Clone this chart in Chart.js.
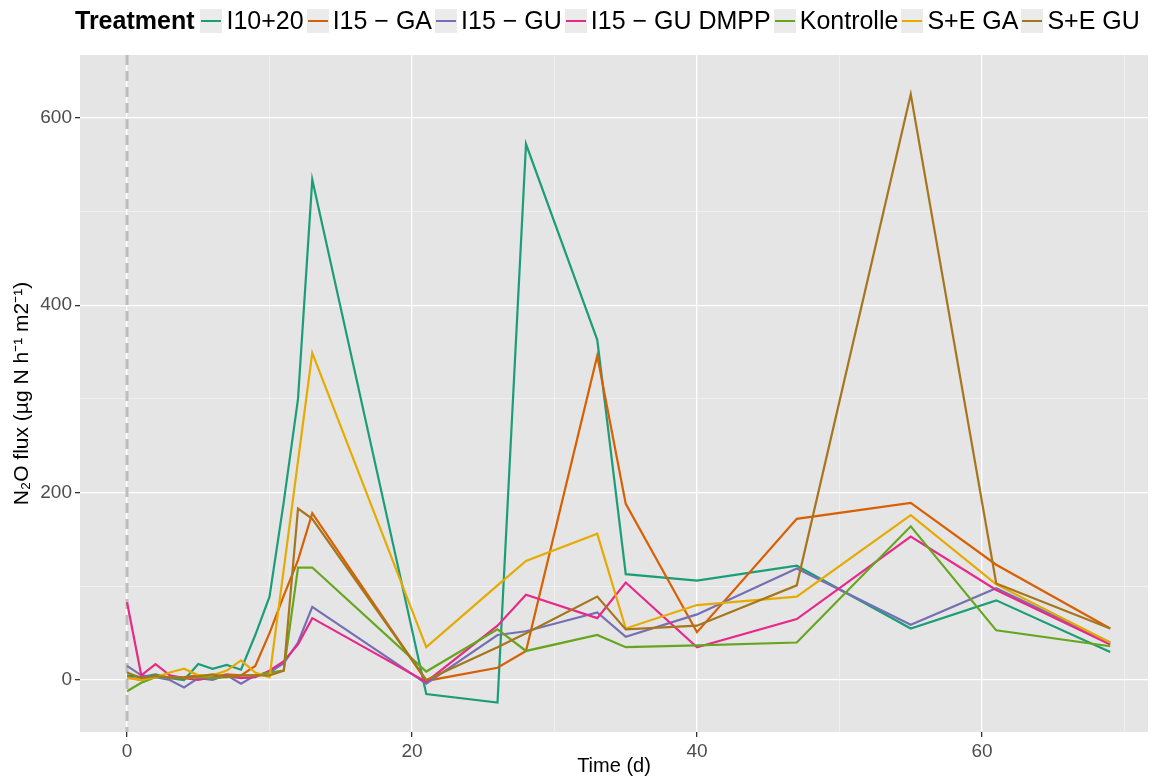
<!DOCTYPE html>
<html>
<head>
<meta charset="utf-8">
<script src="https://cdn.jsdelivr.net/npm/chart.js@4.4.0/dist/chart.umd.min.js"></script>
<style>
html, body { margin: 0; padding: 0; background: #fff; }
#wrap { position: relative; width: 1160px; height: 778px; }
#legend { position: absolute; left: 75px; top: 6px; display: flex; align-items: center;
  font-family: "Liberation Sans", Arial, sans-serif; font-size: 25px; color: #000; white-space: nowrap; }
#legend .ttl { font-weight: bold; margin-right: 6px; }
#legend .key { width: 22px; height: 24px; background: #ebebeb; position: relative; margin-right: 4px; }
#legend .key i { position: absolute; left: 1px; right: 1px; top: 11px; height: 2px; }
#legend .lab { margin-right: 3px; }
</style>
</head>
<body>
<div id="wrap">
  <canvas id="myChart" width="1160" height="778"></canvas>
  <div id="legend"><span class="ttl">Treatment</span></div>
</div>
<script>
    /* Data */

var days = [0, 1, 2, 3, 4, 5, 6, 7, 8, 9, 10, 11, 12, 13, 21, 26, 28, 33, 35, 40, 47, 55, 61, 69];

var names = ["I10+20", "I15 \u2212 GA", "I15 \u2212 GU", "I15 \u2212 GU DMPP", "Kontrolle", "S+E GA", "S+E GU"];

var i10_20     = [5, 3, 6, 2, 0, 17, 12, 16, 11, 48, 89, 190, 300, 534, -15, -24, 572, 363, 113, 106, 122, 55, 85, 30];
var i15_ga     = [3, 0, 5, 2, 3, 5, 3, 6, 5, 15, 50, 90, 128, 178, -1, 13, 31, 346, 188, 51, 172, 189, 123, 55];
var i15_gu     = [15, 5, 3, 0, -8, 2, 0, 5, -4, 5, 8, 18, 40, 78, -4, 48, 52, 72, 46, 70, 119, 59, 98, 40];
var i15_gu_dmpp = [83, 5, 17, 5, 2, 0, 3, 4, 2, 3, 10, 20, 38, 66, -2, 58, 91, 66, 104, 35, 65, 153, 96, 38];
var kontrolle  = [-12, -3, 3, 3, 2, 3, 2, 3, 5, 5, 8, 10, 120, 120, 9, 54, 31, 48, 35, 37, 40, 164, 53, 36];
var se_ga      = [2, 0, 3, 8, 12, 5, 5, 10, 21, 8, 3, null, null, 349, 35, 101, 127, 156, 55, 80, 89, 176, 102, 40];
var se_gu      = [8, 2, 4, 3, 2, 4, 6, 3, 5, 5, 5, 10, 183, 172, 0, 35, 50, 89, 54, 58, 101, 625, 103, 55];

var series = [i10_20, i15_ga, i15_gu, i15_gu_dmpp, kontrolle, se_ga, se_gu];
var colors = ["#1B9E77", "#D95F02", "#7570B3", "#E7298A", "#66A61E", "#E6AB02", "#A6761D"];

var xTicks = [0, 20, 40, 60];
var xMinor = [10, 30, 50, 70];
var yTicks = [0, 200, 400, 600];
var yMinor = [100, 300, 500];

    /* Legend (ggplot style, inline with title) */

var legend = document.getElementById("legend");
names.forEach(function (n, i) {
    var k = document.createElement("span");
    k.className = "key";
    k.innerHTML = '<i style="background:' + colors[i] + '"></i>';
    var l = document.createElement("span");
    l.className = "lab";
    l.textContent = n;
    legend.appendChild(k);
    legend.appendChild(l);
});

    /* Panel background + dashed line at day 0 */

var panelBg = {
    id: "panelBg",
    beforeDraw: function (chart) {
        var a = chart.chartArea, c = chart.ctx;
        c.save();
        c.fillStyle = "#E5E5E5";
        c.fillRect(a.left, a.top, a.right - a.left, a.bottom - a.top);
        c.restore();
    }
};

var zeroLine = {
    id: "zeroLine",
    beforeDatasetsDraw: function (chart) {
        var a = chart.chartArea, c = chart.ctx;
        var x = chart.scales.x.getPixelForValue(0);
        c.save();
        c.strokeStyle = "#BEBEBE";
        c.lineWidth = 3;
        c.setLineDash([10, 6]);
        c.beginPath();
        c.moveTo(x, a.top);
        c.lineTo(x, a.bottom);
        c.stroke();
        c.restore();
    }
};

var font = "'Liberation Sans', Arial, sans-serif";

function isMajor(list, v) { return list.indexOf(v) !== -1; }

const ctx = document.getElementById("myChart").getContext("2d");
const myChart = new Chart(ctx, {
    type: "line",
    data: {
        datasets: series.map(function (s, i) {
            return {
                label: names[i],
                data: days.map(function (d, j) { return { x: d, y: s[j] }; }),
                borderColor: colors[i],
                borderWidth: 2.2,
                pointRadius: 0,
                tension: 0,
                spanGaps: true,
                order: series.length - i
            };
        })
    },
    options: {
        responsive: false,
        animation: false,
        layout: { padding: { top: 55, right: 12, left: 0, bottom: 0 } },
        plugins: { legend: { display: false }, tooltip: { enabled: false } },
        scales: {
            x: {
                type: "linear",
                min: -3.3,
                max: 71.65,
                afterBuildTicks: function (s) {
                    s.ticks = xTicks.concat(xMinor).sort(function (a, b) { return a - b; })
                        .map(function (v) { return { value: v }; });
                },
                afterFit: function (s) { s.height = 46; },
                border: { display: false },
                grid: {
                    color: function (c) { return isMajor(xTicks, c.tick.value) ? "#FFFFFF" : "rgba(255,255,255,0.7)"; },
                    lineWidth: function (c) { return isMajor(xTicks, c.tick.value) ? 1.3 : 0.6; },
                    tickColor: function (c) { return isMajor(xTicks, c.tick.value) ? "#333333" : "rgba(0,0,0,0)"; },
                    tickLength: 5
                },
                ticks: {
                    padding: 3,
                    color: "#4D4D4D",
                    font: { family: font, size: 19 },
                    maxRotation: 0,
                    autoSkip: false,
                    callback: function (v) { return isMajor(xTicks, v) ? String(v) : ""; }
                },
                title: {
                    display: true,
                    text: "Time (d)",
                    color: "#000",
                    font: { family: font, size: 20 },
                    padding: { top: 0, bottom: 0 }
                }
            },
            y: {
                type: "linear",
                min: -55.5,
                max: 667,
                afterBuildTicks: function (s) {
                    s.ticks = yTicks.concat(yMinor).sort(function (a, b) { return a - b; })
                        .map(function (v) { return { value: v }; });
                },
                afterFit: function (s) { s.width = 80; },
                border: { display: false },
                grid: {
                    color: function (c) { return isMajor(yTicks, c.tick.value) ? "#FFFFFF" : "rgba(255,255,255,0.7)"; },
                    lineWidth: function (c) { return isMajor(yTicks, c.tick.value) ? 1.3 : 0.6; },
                    tickColor: function (c) { return isMajor(yTicks, c.tick.value) ? "#333333" : "rgba(0,0,0,0)"; },
                    tickLength: 5
                },
                ticks: {
                    padding: 3,
                    color: "#4D4D4D",
                    font: { family: font, size: 19 },
                    autoSkip: false,
                    callback: function (v) { return isMajor(yTicks, v) ? String(v) : ""; }
                },
                title: {
                    display: true,
                    text: "N\u2082O flux (\u00B5g N h\u207B\u00B9 m2\u207B\u00B9)",
                    color: "#000",
                    font: { family: font, size: 21 },
                    padding: { top: 10, bottom: 0 }
                }
            }
        }
    },
    plugins: [panelBg, zeroLine]
});
</script>
</body>
</html>
